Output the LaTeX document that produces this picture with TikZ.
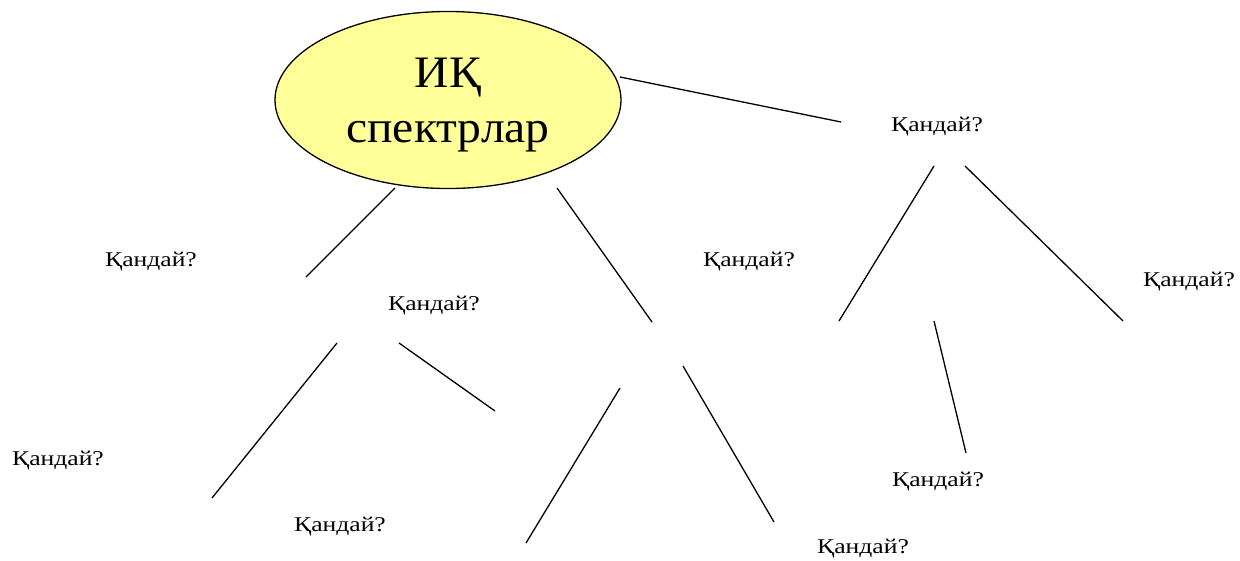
\documentclass[tikz,border=0pt]{standalone}
\usepackage{fontspec}
\setmainfont{Liberation Serif}
\newfontfamily\qfont[FakeStretch=1.22]{Liberation Serif}
\newfontfamily\efont[FakeStretch=1.057]{Liberation Serif}
\usetikzlibrary{shapes.geometric}
\definecolor{ellfill}{RGB}{255,255,153}
\tikzset{
  conn/.style={draw=black, line width=1.3pt},
  qlabel/.style={anchor=base west, inner sep=0pt, font=\qfont\fontsize{21}{25}\selectfont},
  bigell/.style={ellipse, draw=black, line width=1.3pt, fill=ellfill, minimum width=346pt, minimum height=177pt, inner sep=0pt}
}
\begin{document}
\begin{tikzpicture}[x=1pt, y=-1pt]
\fill[white] (0,0) rectangle (1240,560);
\useasboundingbox (0,0) rectangle (1240,560);
\node[bigell] (ik) at (448,100) {};
\node[align=center, inner sep=0pt, font=\efont\fontsize{45}{55}\selectfont] (iklabel) at ([yshift=-5.5pt]ik.center) {ИҚ\\спектрлар};
% labels
\node[qlabel] (q1) at (105,266) {Қандай?};
\node[qlabel] (q2) at (388,310) {Қандай?};
\node[qlabel] (q3) at (12,465) {Қандай?};
\node[qlabel] (q4) at (294,531) {Қандай?};
\node[qlabel] (q5) at (703,266) {Қандай?};
\node[qlabel] (q6) at (817,553) {Қандай?};
\node[qlabel] (q7) at (892,486) {Қандай?};
\node[qlabel] (q8) at (891,131) {Қандай?};
\node[qlabel] (q9) at (1143,286) {Қандай?};
% endpoints
\coordinate (a1) at (620,77);  \coordinate (a2) at (841,122);
\coordinate (b1) at (395,188); \coordinate (b2) at (306,277);
\coordinate (c1) at (557,188); \coordinate (c2) at (652,322);
\coordinate (d1) at (337,343); \coordinate (d2) at (212,498);
\coordinate (e1) at (399,343); \coordinate (e2) at (495,411);
\coordinate (f1) at (620,388); \coordinate (f2) at (526,543);
\coordinate (g1) at (683,366); \coordinate (g2) at (774,522);
\coordinate (h1) at (934,166); \coordinate (h2) at (839,321);
\coordinate (i1) at (965,166); \coordinate (i2) at (1123,321);
\coordinate (j1) at (934,321); \coordinate (j2) at (966,453);
\draw[conn] (a1) -- (a2);
\draw[conn] (b1) -- (b2);
\draw[conn] (c1) -- (c2);
\draw[conn] (d1) -- (d2);
\draw[conn] (e1) -- (e2);
\draw[conn] (f1) -- (f2);
\draw[conn] (g1) -- (g2);
\draw[conn] (h1) -- (h2);
\draw[conn] (i1) -- (i2);
\draw[conn] (j1) -- (j2);
\end{tikzpicture}
\end{document}
